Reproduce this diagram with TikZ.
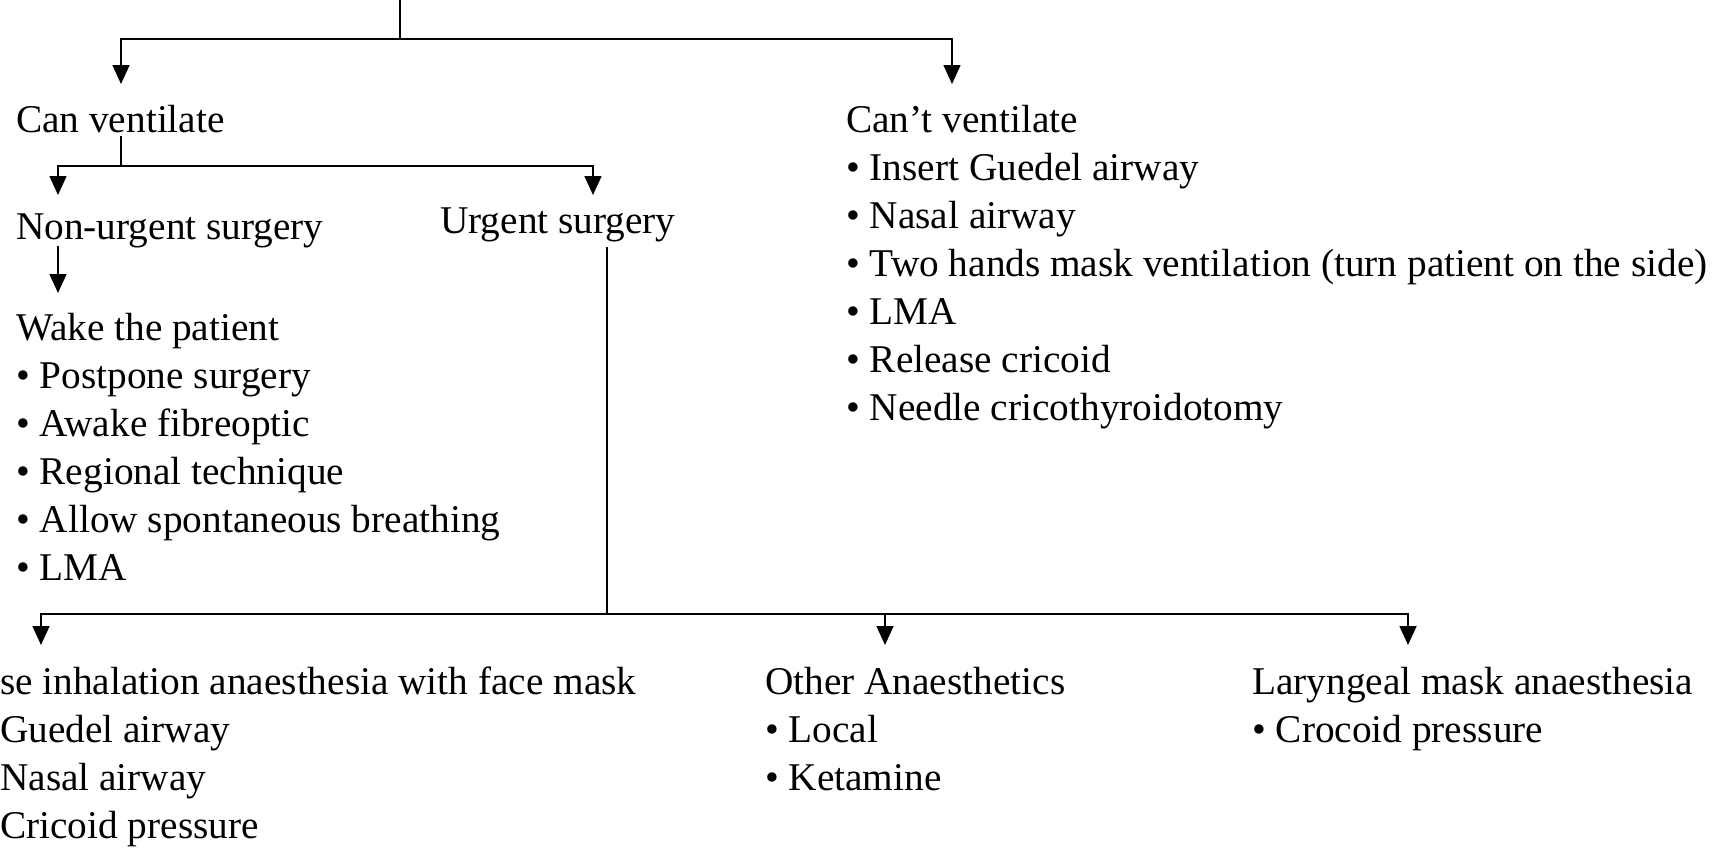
\documentclass[tikz,border=0pt]{standalone}
\usepackage{fontspec}
\setmainfont{Liberation Serif}
\usetikzlibrary{arrows.meta}
\begin{document}
\begin{tikzpicture}[x=1pt,y=1pt,
  txt/.style={anchor=base west, inner sep=0pt, font=\fontsize{39.3}{46}\selectfont},
  ln/.style={line width=1.6pt},
  arr/.style={ln, -{Triangle[width=17pt,length=19pt]}}]
\useasboundingbox (0,0) rectangle (1731,-847);

% level 1
\coordinate (top) at (400,0);
\coordinate (j1) at (400,-39);
\coordinate (t1) at (121,-84);
\coordinate (t2) at (952,-84);
\draw[ln] (top) -- (j1);
\draw[arr] (j1) -| (t1);
\draw[arr] (j1) -| (t2);

% Can ventilate
\node[txt] (canv) at (16,-132) {Can ventilate};

% Can't ventilate
\node[txt] (cantv) at (846,-132) {Can’t ventilate};
\node[txt] (cv1) at (846,-180) {• Insert Guedel airway};
\node[txt] (cv2) at (846,-228) {• Nasal airway};
\node[txt] (cv3) at (846,-276) {• Two hands mask ventilation (turn patient on the side)};
\node[txt] (cv4) at (846,-324) {• LMA};
\node[txt] (cv5) at (846,-372) {• Release cricoid};
\node[txt] (cv6) at (846,-420) {• Needle cricothyroidotomy};

% level 2
\coordinate (c0) at (121,-136);
\coordinate (j2) at (121,-166);
\coordinate (t3) at (58,-195);
\coordinate (t4) at (593,-195);
\draw[ln] (c0) -- (j2);
\draw[arr] (j2) -| (t3);
\draw[arr] (j2) -| (t4);

\node[txt] (nonurg) at (16,-239) {Non-urgent surgery};
\node[txt] (urg) at (440,-233) {Urgent surgery};

% Non-urgent branch
\coordinate (n0) at (58,-246);
\coordinate (t5) at (58,-293);
\draw[arr] (n0) -- (t5);
\node[txt] (wake) at (16,-340) {Wake the patient};
\node[txt] (w1) at (16,-388) {• Postpone surgery};
\node[txt] (w2) at (16,-436) {• Awake fibreoptic};
\node[txt] (w3) at (16,-484) {• Regional technique};
\node[txt] (w4) at (16,-532) {• Allow spontaneous breathing};
\node[txt] (w5) at (16,-580) {• LMA};

% Urgent branch
\coordinate (u0) at (607,-247);
\coordinate (j3) at (607,-614);
\coordinate (t6) at (41,-645);
\coordinate (t7) at (885,-645);
\coordinate (t8) at (1408,-645);
\draw[ln] (u0) -- (j3);
\draw[arr] (j3) -| (t6);
\draw[arr] (j3) -| (t7);
\draw[arr] (j3) -| (t8);

\node[txt] (inh) at (0,-694) {se inhalation anaesthesia with face mask};
\node[txt] (inh1) at (0,-742) {Guedel airway};
\node[txt] (inh2) at (0,-790) {Nasal airway};
\node[txt] (inh3) at (0,-838) {Cricoid pressure};

\node[txt] (oth) at (765,-694) {Other Anaesthetics};
\node[txt] (oth1) at (765,-742) {• Local};
\node[txt] (oth2) at (765,-790) {• Ketamine};

\node[txt] (lar) at (1252,-694) {Laryngeal mask anaesthesia};
\node[txt] (lar1) at (1252,-742) {• Crocoid pressure};
\end{tikzpicture}
\end{document}
